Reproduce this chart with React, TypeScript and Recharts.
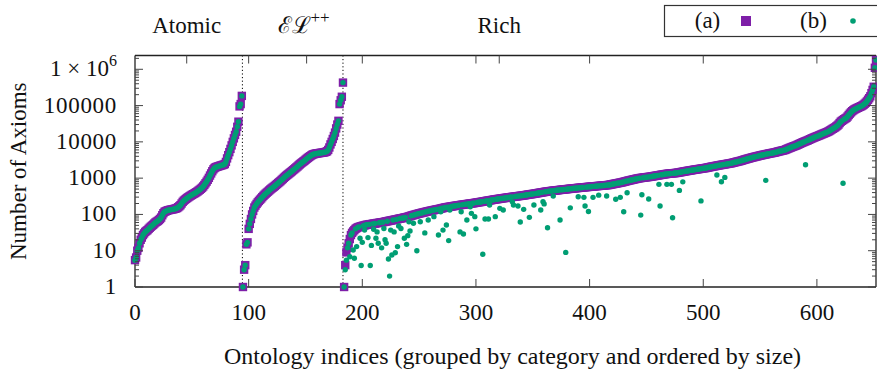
import { ScatterChart, Scatter, XAxis, YAxis, ReferenceLine, Label } from "recharts";

const PURPLE = "#7e1fa8";
const GREEN = "#009e73";
const INK = "#222";
const FONT = "Liberation Serif, DejaVu Serif, serif";

// number of axioms, one entry per ontology, sorted inside each category
const atomicAxioms = [
  5.5, 6.5, 10, 12, 16, 20, 23, 27, 30, 33,
  35, 37, 40, 43, 46, 49, 52, 56, 60, 63,
  66, 70, 75, 82, 95, 108, 118, 122, 126, 130,
  132, 134, 136, 138, 140, 143, 146, 150, 158, 168,
  180, 200, 222, 240, 255, 270, 285, 300, 315, 330,
  345, 360, 375, 390, 410, 430, 455, 480, 510, 545,
  590, 650, 720, 800, 900, 1020, 1180, 1350, 1550, 1750,
  1900, 2000, 2050, 2100, 2150, 2200, 2250, 2300, 2350, 2450,
  2800, 3500, 4300, 5200, 6400, 8000, 10000, 12500, 15500, 19000,
  26000, 36000, 95000, 110000, 185000,
];

const elAxioms = [
  1, 3, 4, 15, 17, 40, 55, 75, 100, 125,
  155, 175, 195, 215, 235, 255, 275, 300, 325, 350,
  375, 400, 425, 455, 485, 515, 545, 575, 610, 650,
  690, 735, 780, 830, 890, 950, 1020, 1090, 1160, 1230,
  1300, 1380, 1460, 1550, 1650, 1750, 1860, 1980, 2100, 2250,
  2400, 2550, 2700, 2850, 3000, 3200, 3400, 3600, 3800, 4000,
  4200, 4400, 4550, 4650, 4750, 4800, 4850, 4900, 4950, 5000,
  5050, 5100, 5200, 5300, 5500, 6000, 7000, 8500, 10000, 12000,
  14500, 18000, 23500, 30000, 38000, 110000, 140000, 175000, 430000,
];

const richAxioms = [
  1, 4, 9, 12, 16, 21, 27, 31, 34, 37,
  40, 42, 44, 45, 46, 47, 48, 49, 50, 51,
  52, 52, 53, 54, 54, 55, 56, 56, 57, 58,
  58, 59, 60, 61, 61, 62, 63, 64, 65, 66,
  67, 68, 69, 70, 71, 72, 73, 74, 76, 77,
  78, 79, 80, 82, 83, 84, 86, 88, 90, 92,
  94, 96, 98, 100, 102, 104, 106, 108, 110, 112,
  114, 116, 118, 120, 122, 124, 126, 128, 130, 132,
  134, 136, 138, 140, 142, 145, 148, 150, 152, 155,
  157, 159, 161, 163, 165, 167, 169, 171, 173, 175,
  177, 179, 181, 183, 185, 187, 189, 191, 193, 195,
  197, 199, 201, 203, 205, 208, 210, 213, 216, 218,
  220, 223, 226, 229, 232, 235, 238, 241, 244, 247,
  250, 253, 256, 259, 262, 265, 268, 271, 274, 277,
  280, 283, 286, 289, 292, 295, 298, 301, 304, 307,
  310, 313, 316, 319, 322, 325, 328, 331, 335, 339,
  343, 347, 351, 355, 359, 363, 367, 371, 375, 380,
  385, 390, 395, 400, 405, 410, 415, 420, 425, 430,
  434, 438, 442, 446, 450, 454, 458, 462, 466, 470,
  474, 478, 482, 486, 490, 494, 498, 502, 506, 510,
  514, 518, 522, 526, 530, 534, 538, 542, 546, 550,
  554, 558, 562, 566, 570, 574, 578, 582, 586, 590,
  594, 598, 602, 606, 610, 614, 618, 622, 626, 630,
  635, 640, 645, 650, 660, 670, 680, 690, 700, 710,
  720, 730, 740, 750, 760, 775, 790, 805, 820, 835,
  850, 865, 880, 895, 910, 925, 940, 955, 970, 985,
  1000, 1010, 1020, 1030, 1040, 1050, 1060, 1070, 1080, 1090,
  1100, 1115, 1130, 1145, 1160, 1175, 1190, 1205, 1220, 1235,
  1250, 1265, 1280, 1295, 1310, 1320, 1330, 1340, 1350, 1360,
  1370, 1380, 1390, 1400, 1420, 1440, 1460, 1480, 1500, 1520,
  1540, 1560, 1580, 1600, 1620, 1640, 1660, 1680, 1700, 1720,
  1740, 1760, 1780, 1800, 1820, 1840, 1860, 1880, 1900, 1930,
  1960, 1990, 2020, 2050, 2080, 2110, 2140, 2170, 2200, 2230,
  2260, 2290, 2320, 2350, 2380, 2410, 2440, 2470, 2500, 2530,
  2560, 2600, 2650, 2700, 2750, 2800, 2850, 2900, 2950, 3000,
  3070, 3140, 3210, 3280, 3350, 3420, 3490, 3560, 3630, 3700,
  3770, 3840, 3910, 3980, 4050, 4120, 4190, 4260, 4330, 4400,
  4470, 4540, 4610, 4680, 4750, 4820, 4890, 4960, 5030, 5100,
  5200, 5300, 5400, 5500, 5600, 5700, 5800, 5900, 6000, 6200,
  6400, 6600, 6800, 7000, 7200, 7400, 7600, 7800, 8000, 8300,
  8600, 8900, 9200, 9500, 9800, 10100, 10400, 10700, 11000, 11400,
  11800, 12200, 12600, 13000, 13400, 13800, 14200, 14600, 15000, 15500,
  16000, 16500, 17000, 17500, 18000, 18600, 19200, 20000, 21000, 22000,
  23000, 24000, 25000, 26500, 28000, 30000, 33000, 36000, 38000, 40000,
  42000, 44000, 46000, 50000, 55000, 60000, 65000, 70000, 74000, 78000,
  81000, 84000, 87000, 90000, 93000, 96000, 100000, 105000, 112000, 120000,
  130000, 145000, 160000, 180000, 220000, 270000, 330000, 1100000, 1800000,
];

// (b) matches (a) except at these ontologies: [index, axioms]
const bBelowA: [number, number][] = [
  [185, 3], [186, 5.5], [189, 6.8], [192, 10.5], [193, 6.2], [195, 13], [198, 22], [199, 3.9],
  [200, 17], [202, 37], [205, 23], [207, 3.9], [208, 14], [210, 39], [212, 22], [213, 33],
  [214, 16], [217, 12], [219, 41], [220, 20], [221, 16], [223, 5.9], [224, 2], [225, 37],
  [226, 7.6], [228, 33], [229, 8.8], [231, 13], [232, 48], [234, 41], [237, 22], [239, 15],
  [240, 26], [241, 63], [242, 35], [245, 57], [248, 10], [251, 63], [255, 31], [258, 70],
  [263, 87], [267, 27], [269, 118], [271, 37], [274, 51], [276, 19], [277, 132], [286, 33],
  [287, 118], [289, 29], [292, 70], [295, 162], [296, 107], [299, 87], [300, 40], [306, 8],
  [308, 75], [311, 75], [312, 182], [317, 87], [321, 147], [324, 132], [332, 222], [333, 182],
  [337, 170], [339, 62], [342, 138], [347, 83], [351, 182], [357, 132], [359, 224], [360, 195],
  [363, 43], [368, 320], [374, 70], [379, 9], [383, 152], [390, 307], [395, 296], [396, 170],
  [399, 121], [403, 296], [408, 340], [415, 322], [423, 262], [427, 296], [430, 118], [433, 395],
  [445, 96], [446, 348], [452, 265], [461, 675], [462, 170], [468, 675], [472, 675], [473, 81],
  [479, 460], [482, 790], [498, 236], [512, 1220], [516, 795], [519, 1050], [555, 870], [590, 2340],
  [623, 720],
];

const categoryNames = ["Atomic", "EL++", "Rich"];
const categoryCenters = [45.5, 151, 320.5];
const categoryBreaks = [94.5, 183];
const xTicks = [0, 100, 200, 300, 400, 500, 600];
const yDecades = [1, 10, 100, 1000, 10000, 100000, 1000000];
const yMinorSteps = [2, 3, 4, 5, 6, 7, 8, 9];
const X_MAX = 652;
const Y_MAX = 2400000;

const seriesA = [...atomicAxioms, ...elAxioms, ...richAxioms].map((axioms, idx) => ({ idx, axioms }));
const bOverride = new Map(bBelowA);
const seriesB = seriesA.map((p) => ({ idx: p.idx, axioms: bOverride.get(p.idx) ?? p.axioms }));

const yTicks = yDecades
  .flatMap((d) => [d, ...yMinorSteps.map((m) => m * d)])
  .filter((v) => v <= Y_MAX);
const topTicks = [...xTicks.slice(1), ...categoryCenters].sort((a, b) => a - b);

const txt = { fontFamily: FONT, fontSize: 23, fill: "#111" };

const Square = (p: any) =>
  p.cx == null ? null : <rect x={p.cx - 4.2} y={p.cy - 4.2} width={8.4} height={8.4} fill={PURPLE} />;
const Dot = (p: any) => (p.cx == null ? null : <circle cx={p.cx} cy={p.cy} r={2.7} fill={GREEN} />);

const LeftTick = ({ x, y, payload }: any) => {
  const v = payload.value;
  const major = yDecades.includes(v);
  return (
    <g>
      <line x1={x} x2={x + (major ? 8 : 4)} y1={y} y2={y} stroke="#444" />
      {major &&
        (v === 1000000 ? (
          <text x={x - 18} y={y + 7} textAnchor="end" {...txt}>
            1 × 10<tspan dy={-10} fontSize={16}>6</tspan>
          </text>
        ) : (
          <text x={x - 18} y={y + 7} textAnchor="end" letterSpacing={0.7} {...txt}>
            {v}
          </text>
        ))}
    </g>
  );
};

const RightTick = ({ x, y, payload }: any) => {
  const major = yDecades.includes(payload.value);
  return <line x1={x} x2={x - (major ? 8 : 4)} y1={y} y2={y} stroke="#444" />;
};

const BottomTick = ({ x, y, payload }: any) => (
  <g>
    <line x1={x} x2={x} y1={y} y2={y - 8} stroke="#444" />
    <text x={x} y={y + 33} textAnchor="middle" {...txt}>
      {payload.value}
    </text>
  </g>
);

const TopTick = ({ x, y, payload }: any) => {
  const name = categoryNames[categoryCenters.indexOf(payload.value)];
  return (
    <g>
      <line x1={x} x2={x} y1={y} y2={y + 8} stroke="#444" />
      {name === "EL++" ? (
        <text x={x - 3} y={y - 23} textAnchor="middle" {...txt}>
          ℰℒ<tspan dy={-10} fontSize={17}>++</tspan>
        </text>
      ) : name ? (
        <text x={x} y={y - 23} textAnchor="middle" {...txt}>
          {name}
        </text>
      ) : null}
    </g>
  );
};

const XTitle = ({ viewBox }: any) => (
  <text x={viewBox.x + viewBox.width / 2 + 7} y={viewBox.y + 77} textAnchor="middle" {...txt} fontSize={24}>
    Ontology indices (grouped by category and ordered by size)
  </text>
);

const YTitle = ({ viewBox }: any) => {
  const cx = viewBox.x + 18;
  const cy = viewBox.y + viewBox.height / 2;
  return (
    <text x={cx} y={cy} textAnchor="middle" dominantBaseline="central" transform={`rotate(-90 ${cx} ${cy})`} {...txt}>
      Number of Axioms
    </text>
  );
};

const frame = { stroke: INK, strokeWidth: 1.3 };

export default function App() {
  return (
    <div style={{ position: "fixed", left: 0, top: 0, width: 877, height: 375, background: "#fff" }}>
      <ScatterChart width={877} height={375} margin={{ top: 0, right: 0, bottom: 0, left: 0 }}>
        <XAxis
          xAxisId="bottom"
          dataKey="idx"
          type="number"
          domain={[0, X_MAX]}
          ticks={xTicks}
          interval={0}
          height={88}
          tickSize={0}
          tickMargin={0}
          tickLine={false}
          axisLine={frame}
          tick={BottomTick}
        >
          <Label content={XTitle} />
        </XAxis>
        <XAxis
          xAxisId="top"
          orientation="top"
          dataKey="idx"
          type="number"
          domain={[0, X_MAX]}
          ticks={topTicks}
          interval={0}
          height={55.5}
          tickSize={0}
          tickMargin={0}
          tickLine={false}
          axisLine={frame}
          tick={TopTick}
        />
        <YAxis
          yAxisId="left"
          dataKey="axioms"
          type="number"
          scale="log"
          domain={[1, Y_MAX]}
          ticks={yTicks}
          interval={0}
          width={135}
          tickSize={0}
          tickMargin={0}
          tickLine={false}
          axisLine={frame}
          tick={LeftTick}
        >
          <Label content={YTitle} />
        </YAxis>
        <YAxis
          yAxisId="right"
          orientation="right"
          dataKey="axioms"
          type="number"
          scale="log"
          domain={[1, Y_MAX]}
          ticks={yTicks}
          interval={0}
          width={1}
          tickSize={0}
          tickMargin={0}
          tickLine={false}
          axisLine={frame}
          tick={RightTick}
        />
        {categoryBreaks.map((b) => (
          <ReferenceLine key={b} xAxisId="bottom" yAxisId="left" x={b} stroke="#000" strokeDasharray="1.2 2.4" />
        ))}
        <Scatter name="(a)" data={seriesA} xAxisId="bottom" yAxisId="left" shape={Square} isAnimationActive={false} />
        <Scatter name="(b)" data={seriesB} xAxisId="top" yAxisId="right" shape={Dot} isAnimationActive={false} />
      </ScatterChart>
      <svg width={877} height={40} style={{ position: "absolute", left: 0, top: 0 }}>
        <rect x={664.5} y={5.5} width={230} height={31} fill="#fff" stroke="#333" strokeWidth={1.2} />
        <text x={707.5} y={28} textAnchor="middle" {...txt}>(a)</text>
        <rect x={741} y={16} width={10} height={10} fill={PURPLE} />
        <text x={813.5} y={28} textAnchor="middle" {...txt}>(b)</text>
        <circle cx={853} cy={21} r={2.8} fill={GREEN} />
      </svg>
    </div>
  );
}
